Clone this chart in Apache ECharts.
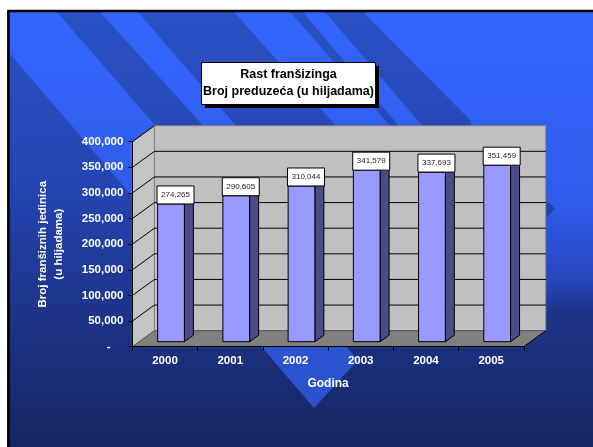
<!DOCTYPE html>
<html><head><meta charset="utf-8">
<script src="https://cdn.jsdelivr.net/npm/echarts/dist/echarts.min.js"></script>
<style>html,body{margin:0;padding:0;background:#fff}#c{width:593px;height:447px}</style>
</head><body><div id="c"></div>
<script>
// ---- data ----
const years = ['2000', '2001', '2002', '2003', '2004', '2005'];
const units = [274265, 290605, 310044, 341579, 337693, 351459];
const yTickValues = [0, 50000, 100000, 150000, 200000, 250000, 300000, 350000, 400000];
const titleLines = ['Rast franšizinga', 'Broj preduzeća (u hiljadama)'];
const yTitleLines = ['Broj franšiznih jedinica', '(u hiljadama)'];
const xTitle = 'Godina';

// ---- 3D look ----
const DX = 22, DY = -16;
const BAR_OFF = [6, -5];
const BAR_DEPTH = [9, -6.5];
const BAR_FRAC = 0.41;
const PERSP = 0.98;
const FONT = '"Liberation Sans", Arial, sans-serif';

const fmt = v => v.toLocaleString('en-US');

function wallsRender(params, api) {
  const cs = params.coordSys;
  const x0 = cs.x, y0 = cs.y, w = cs.width, h = cs.height, yb = y0 + h;
  const ch = [];
  ch.push({type: 'rect', shape: {x: x0 + DX, y: y0 + DY, width: w, height: h},
    style: {fill: '#c0c0c0', stroke: '#808080', lineWidth: 1}});
  ch.push({type: 'polygon', shape: {points: [[x0, y0], [x0 + DX, y0 + DY], [x0 + DX, yb + DY], [x0, yb]]},
    style: {fill: '#c4c4c4', stroke: '#808080', lineWidth: 1}});
  ch.push({type: 'polygon', shape: {points: [[x0, yb], [x0 + DX, yb + DY], [x0 + w + DX, yb + DY], [x0 + w, yb]]},
    style: {fill: '#808080', stroke: '#555', lineWidth: 1}});
  yTickValues.forEach(v => {
    if (v === 0) return;
    const y = api.coord([0, v])[1];
    if (v < yTickValues[yTickValues.length - 1]) {
      ch.push({type: 'line', shape: {x1: x0 + DX, y1: y + DY, x2: x0 + w + DX, y2: y + DY},
        style: {stroke: '#000', lineWidth: 1}});
    }
    ch.push({type: 'line', shape: {x1: x0, y1: y, x2: x0 + DX, y2: y + DY},
      style: {stroke: '#000', lineWidth: 1}});
  });
  ch.push({type: 'line', shape: {x1: x0 + w, y1: yb, x2: x0 + w + DX, y2: yb + DY},
    style: {stroke: '#000', lineWidth: 1}});
  return {type: 'group', children: ch};
}

function barRender(params, api) {
  const i = api.value(0), v = api.value(1);
  const base = api.coord([i, 0]);
  const top = api.coord([i, v]);
  const bw = api.size([1, 0])[0];
  const fw = bw * BAR_FRAC;
  const fx = base[0] - fw / 2 + BAR_OFF[0];
  const by = base[1] + BAR_OFF[1];
  const ty = by - (base[1] - top[1]) * PERSP;
  const dx = BAR_DEPTH[0], dy = BAR_DEPTH[1];
  const cx = fx + (fw + dx) / 2;
  const lw = 37, lh = 18;
  return {type: 'group', children: [
    {type: 'polygon', shape: {points: [[fx + fw, by], [fx + fw, ty], [fx + fw + dx, ty + dy], [fx + fw + dx, by + dy]]},
      style: {fill: '#4b4b85', stroke: '#000', lineWidth: 1}},
    {type: 'polygon', shape: {points: [[fx, ty], [fx + dx, ty + dy], [fx + fw + dx, ty + dy], [fx + fw, ty]]},
      style: {fill: '#b8b8ff', stroke: '#000', lineWidth: 1}},
    {type: 'rect', shape: {x: fx, y: ty, width: fw, height: by - ty},
      style: {fill: '#9999ff', stroke: '#000', lineWidth: 1}},
    {type: 'rect', z2: 10, shape: {x: cx - lw / 2, y: ty - lh, width: lw, height: lh},
      style: {fill: '#fff', stroke: '#000', lineWidth: 1}},
    {type: 'text', z2: 11, style: {x: cx, y: ty - lh / 2, text: fmt(v), fill: '#222',
      font: '8px ' + FONT, textAlign: 'center', textVerticalAlign: 'middle'}}
  ]};
}

// background (slide design)
const lin = stops => ({type: 'linear', x: 0, y: 0, x2: 0, y2: 447, global: true,
  colorStops: stops.map(s => ({offset: s[0], color: s[1]}))});
const baseGrad = lin([[0, '#2a52c6'], [0.4, '#2446b4'], [0.7, '#1d3488'], [1, '#172562']]);
const brightGrad = lin([[0, '#3366ff'], [0.5, '#2f5ae6'], [1, '#2a4fc4']]);
const rightGrad = lin([[0, '#3366ff'], [0.45, '#2f5cec'], [0.62, '#2748c0'], [0.7, '#1d3488'], [1, '#172562']]);

const P = (pts, fill, z) => ({type: 'polygon', z: z || -90, silent: true, shape: {points: pts}, style: {fill: fill}});
const bg = [
  {type: 'rect', z: -100, silent: true, shape: {x: 0, y: 0, width: 593, height: 447}, style: {fill: baseGrad}},
  P([[363, 12], [593, 12], [593, 447], [524, 447], [524, 347], [540, 300], [470, 120]], rightGrad),
  P([[525, 205], [548, 201], [555, 209], [547, 217], [525, 215]], baseGrad, -88),
  P([[-26, 12], [57, 12], [358, 360], [314, 408]], brightGrad),
  P([[100, 12], [138, 12], [300, 200], [280, 210]], brightGrad),
  P([[234, 12], [290, 12], [420, 160], [380, 175]], brightGrad),
  P([[303, 12], [325, 12], [460, 170], [440, 175]], brightGrad),
  {type: 'rect', z: -80, silent: true, shape: {x: 0, y: 0, width: 593, height: 10}, style: {fill: '#fff'}},
  {type: 'rect', z: -80, silent: true, shape: {x: 0, y: 0, width: 7, height: 447}, style: {fill: '#fff'}},
  {type: 'polyline', z: -79, silent: true, shape: {points: [[8.5, 447], [8.5, 11], [593, 11]]}, style: {stroke: '#000', lineWidth: 2.5, fill: null}},
  // title box
  {type: 'rect', z: 100, silent: true, shape: {x: 205, y: 66, width: 174, height: 42}, style: {fill: '#000'}},
  {type: 'rect', z: 101, silent: true, shape: {x: 201.5, y: 62.5, width: 174, height: 42}, style: {fill: '#fff', stroke: '#000', lineWidth: 1}},
  {type: 'text', z: 102, silent: true, style: {x: 288.5, y: 75, text: titleLines[0], fill: '#000',
    font: 'bold 12.5px ' + FONT, textAlign: 'center', textVerticalAlign: 'middle'}},
  {type: 'text', z: 102, silent: true, style: {x: 288.5, y: 91.5, text: titleLines[1], fill: '#000',
    font: 'bold 12.5px ' + FONT, textAlign: 'center', textVerticalAlign: 'middle'}}
];

const chart = echarts.init(document.getElementById('c'), null, {renderer: 'canvas'});
chart.setOption({
  animation: false,
  backgroundColor: '#fff',
  graphic: {elements: bg},
  grid: {left: 132.4, top: 141.7, width: 391.4, height: 205, containLabel: false, outerBoundsMode: 'none'},
  xAxis: {
    type: 'category', data: years, z: 5,
    axisLine: {show: true, lineStyle: {color: '#000', width: 1}},
    axisTick: {show: true, length: 4, lineStyle: {color: '#000'}},
    axisLabel: {color: '#fff', fontWeight: 'bold', fontSize: 11.5, fontFamily: FONT, margin: 8},
    splitLine: {show: false},
    name: xTitle, nameLocation: 'middle', nameGap: 31,
    nameTextStyle: {color: '#fff', fontWeight: 'bold', fontSize: 12, fontFamily: FONT}
  },
  yAxis: {
    type: 'value', min: 0, max: 400000, interval: 50000, z: 5,
    axisLine: {show: true, lineStyle: {color: '#000', width: 1}},
    axisTick: {show: true, length: 4, lineStyle: {color: '#000'}},
    axisLabel: {color: '#fff', fontWeight: 'bold', fontSize: 11.5, fontFamily: FONT, margin: 9,
      formatter: v => v === 0 ? '-    ' : fmt(v)},
    splitLine: {show: false},
    name: yTitleLines.join('\n'), nameLocation: 'middle', nameGap: 66,
    nameTextStyle: {color: '#fff', fontWeight: 'bold', fontSize: 11.5, fontFamily: FONT, lineHeight: 16}
  },
  series: [
    {type: 'custom', name: 'walls', coordinateSystem: 'cartesian2d', data: [[0, 0]], renderItem: wallsRender,
      silent: true, z: 1, clip: false},
    {type: 'custom', name: 'Broj franšiznih jedinica', coordinateSystem: 'cartesian2d',
      data: years.map((y, i) => [i, units[i]]), renderItem: barRender, z: 3, clip: false}
  ]
});
</script></body></html>
